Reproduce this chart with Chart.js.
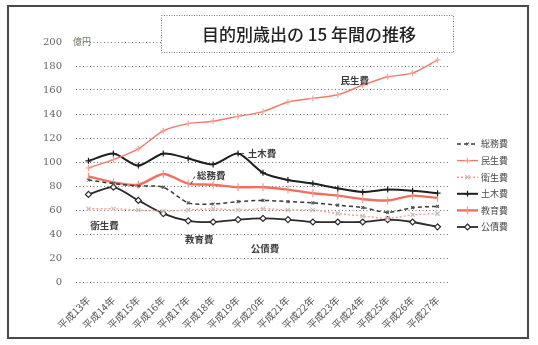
<!DOCTYPE html>
<html lang="ja">
<head>
<meta charset="utf-8">
<script src="https://cdn.jsdelivr.net/npm/chart.js@4.4.1/dist/chart.umd.min.js"></script>
<style>
  html, body { margin: 0; padding: 0; background: #fff; }
  #wrap { width: 538px; height: 345px; position: relative; }
</style>
</head>
<body>
<div id="wrap"><canvas id="c" width="538" height="345"></canvas></div>
<script>
// Fiscal years (平成13年〜平成27年)
const years = ['平成13年', '平成14年', '平成15年', '平成16年', '平成17年', '平成18年', '平成19年',
  '平成20年', '平成21年', '平成22年', '平成23年', '平成24年', '平成25年', '平成26年', '平成27年'];

// Expenditure by purpose (億円)
const somu    = [85, 82, 80, 79, 66, 65, 67, 68, 67, 66, 64, 62, 58, 62, 63];            // 総務費
const minsei  = [95, 102, 111, 126, 132, 134, 138, 142, 150, 153, 156, 164, 171, 174, 185]; // 民生費
const eisei   = [61, 61, 60, 59, 60, 61, 60, 61, 60, 60, 57, 55, 53, 56, 57];            // 衛生費
const doboku  = [101, 107, 97, 107, 103, 98, 107, 91, 85, 82, 78, 75, 77, 76, 74];       // 土木費
const kyoiku  = [88, 83, 81, 90, 82, 81, 79, 79, 77, 74, 72, 69, 68, 72, 70];            // 教育費
const kosai   = [73, 79, 68, 57, 51, 50, 52, 53, 52, 50, 50, 50, 52, 50, 46];            // 公債費

const seriesNames = ['総務費', '民生費', '衛生費', '土木費', '教育費', '公債費'];
const yTicks = { min: 0, max: 200, step: 20 };
const unitLabel = '億円';
const titleText = '目的別歳出の 15 年間の推移';

const JP = '"Noto Sans CJK JP", "Noto Sans", sans-serif';

// Line styles for each series
const styles = [
  { color: '#3a3a3a', width: 1.5, dash: [4, 3], point: 'crossRot', r: 2, pointColor: '#555', fill: '#fff' },
  { color: '#f27a6a', width: 1.4, dash: [], point: 'cross', r: 3, pointColor: '#f4a49a', fill: '#fff' },
  { color: '#f1a198', width: 1.4, dash: [2, 2], point: 'crossRot', r: 3, pointColor: '#c9bdbd', fill: '#fff' },
  { color: '#1e1e1e', width: 2.0, dash: [], point: 'cross', r: 3, pointColor: '#1e1e1e', fill: '#fff' },
  { color: '#f0705f', width: 2.4, dash: [], point: 'line', r: 4, rot: 90, pointColor: '#f29a8e', fill: '#fff' },
  { color: '#2a2a2a', width: 1.8, dash: [], point: 'rectRot', r: 3, pointColor: '#2a2a2a', fill: '#fff' }
];
const values = [somu, minsei, eisei, doboku, kyoiku, kosai];

const datasets = values.map((v, i) => ({
  label: seriesNames[i],
  data: v,
  borderColor: styles[i].color,
  borderWidth: styles[i].width,
  borderDash: styles[i].dash,
  pointStyle: styles[i].point,
  pointRadius: styles[i].r,
  pointRotation: styles[i].rot || 0,
  pointBorderColor: styles[i].pointColor,
  pointBackgroundColor: styles[i].fill,
  pointBorderWidth: 1.2,
  tension: 0.25,
  fill: false
}));

// Series name tags placed beside a chosen point of each line
const lineTags = [
  { series: 1, index: 11, dx: -8, dy: -5, text: '民生費' },
  { series: 3, index: 6,  dx: 24, dy: 0, text: '土木費', lead: true },
  { series: 4, index: 4,  dx: 23, dy: -8, text: '総務費', lead: true },
  { series: 2, index: 1,  dx: -9, dy: 17, text: '衛生費' },
  { series: 5, index: 4,  dx: 11, dy: 19, text: '教育費' },
  { series: 5, index: 7,  dx: 2,  dy: 30, text: '公債費' }
];

function drawMarker(ctx, style, x, y, r, rot) {
  ctx.save();
  ctx.translate(x, y);
  ctx.rotate((rot || 0) * Math.PI / 180);
  ctx.beginPath();
  if (style === 'cross') {
    ctx.moveTo(-r, 0); ctx.lineTo(r, 0); ctx.moveTo(0, -r); ctx.lineTo(0, r);
    ctx.stroke();
  } else if (style === 'crossRot') {
    const d = r * 0.707;
    ctx.moveTo(-d, -d); ctx.lineTo(d, d); ctx.moveTo(-d, d); ctx.lineTo(d, -d);
    ctx.stroke();
  } else if (style === 'rectRot') {
    ctx.moveTo(0, -r); ctx.lineTo(r, 0); ctx.lineTo(0, r); ctx.lineTo(-r, 0); ctx.closePath();
    ctx.fill(); ctx.stroke();
  } else if (style === 'line') {
    ctx.moveTo(-r, 0); ctx.lineTo(r, 0);
    ctx.stroke();
  }
  ctx.restore();
}

const decorations = {
  id: 'decorations',
  beforeDraw(chart) {
    const ctx = chart.ctx;
    ctx.save();
    ctx.fillStyle = '#fff';
    ctx.fillRect(0, 0, chart.width, chart.height);
    // outer frame
    ctx.strokeStyle = '#4a4a4a';
    ctx.lineWidth = 2;
    ctx.strokeRect(8, 6, 520, 332);
    ctx.restore();
  },
  afterDatasetsDraw(chart) {
    const ctx = chart.ctx;
    const area = chart.chartArea;
    const yScale = chart.scales.y;
    ctx.save();

    // unit label beside the top tick
    ctx.font = '9px ' + JP;
    ctx.fillStyle = '#6b7a5e';
    ctx.textBaseline = 'middle';
    ctx.textAlign = 'left';
    ctx.fillText(unitLabel, area.left - 3, yScale.getPixelForValue(yTicks.max));

    // title box
    const bx = 161, by = 15, bw = 292, bh = 37;
    ctx.fillStyle = '#fff';
    ctx.fillRect(bx, by, bw, bh);
    ctx.setLineDash([1, 1.5]);
    ctx.strokeStyle = '#777';
    ctx.lineWidth = 1;
    ctx.strokeRect(bx + 0.5, by + 0.5, bw, bh);
    ctx.setLineDash([]);
    ctx.fillStyle = '#222';
    ctx.font = '500 17px ' + JP;
    ctx.textAlign = 'center';
    ctx.fillText(titleText, bx + bw / 2 + 2, by + bh / 2 + 1);

    // tags on the lines
    ctx.font = 'bold 9.5px ' + JP;
    ctx.textAlign = 'center';
    lineTags.forEach(t => {
      const pt = chart.getDatasetMeta(t.series).data[t.index];
      const x = pt.x + t.dx, y = pt.y + t.dy;
      if (t.lead) {
        ctx.strokeStyle = '#444';
        ctx.lineWidth = 1;
        ctx.setLineDash([3, 2]);
        ctx.beginPath();
        ctx.moveTo(pt.x + 3, pt.y);
        ctx.lineTo(x - 16, y);
        ctx.stroke();
        ctx.setLineDash([]);
      }
      ctx.fillStyle = '#3d3d3d';
      ctx.fillText(t.text, x, y);
    });

    // legend
    const lx = 457, ly = 144, step = 16.6;
    ctx.font = '9px ' + JP;
    ctx.textAlign = 'left';
    chart.data.datasets.forEach((ds, i) => {
      const y = ly + i * step;
      const s = styles[i];
      ctx.strokeStyle = s.color;
      ctx.lineWidth = s.width;
      ctx.setLineDash(s.dash);
      ctx.beginPath();
      ctx.moveTo(lx, y);
      ctx.lineTo(lx + 21, y);
      ctx.stroke();
      ctx.setLineDash([]);
      ctx.strokeStyle = s.pointColor;
      ctx.fillStyle = s.fill;
      ctx.lineWidth = 1.2;
      drawMarker(ctx, s.point, lx + 10.5, y, s.r, s.rot);
      ctx.fillStyle = '#4a4a4a';
      ctx.fillText(ds.label, lx + 24, y);
    });
    ctx.restore();
  }
};

new Chart(document.getElementById('c'), {
  type: 'line',
  data: { labels: years, datasets },
  options: {
    responsive: false,
    animation: false,
    layout: { padding: { left: 0, right: 88, top: 42, bottom: 0 } },
    plugins: { legend: { display: false }, tooltip: { enabled: false } },
    scales: {
      x: {
        offset: true,
        grid: { display: false },
        border: { display: false },
        ticks: {
          autoSkip: false, maxRotation: 45, minRotation: 45,
          color: '#555', padding: 4,
          font: { family: JP, size: 10 }
        },
        afterFit(scale) { scale.height = 63; }
      },
      y: {
        min: yTicks.min, max: yTicks.max,
        grid: { color: '#6f6f6f', lineWidth: 1, drawTicks: false },
        border: { display: false, dash: [1, 2.5] },
        ticks: {
          stepSize: yTicks.step, color: '#666', padding: 14,
          font: { family: '"DejaVu Serif", serif', size: 10 }
        },
        afterFit(scale) { scale.width = 76; }
      }
    }
  },
  plugins: [decorations]
});
</script>
</body>
</html>
